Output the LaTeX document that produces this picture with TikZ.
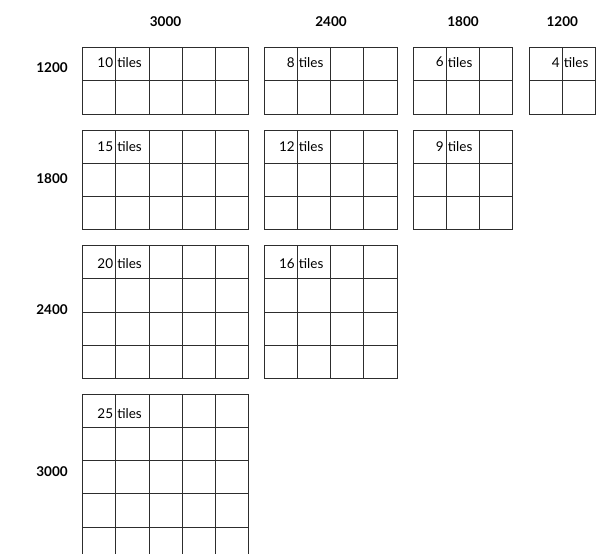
\documentclass[tikz,border=0pt]{standalone}
\usepackage{fontspec}
\setmainfont{Lato}
\usetikzlibrary{positioning}
\definecolor{GridLine}{RGB}{45,45,45}

\tikzset{
  sizelabel/.style={font=\bfseries\fontsize{13.5}{16}\selectfont},
  countlabel/.style={font=\fontsize{13.5}{16}\selectfont, inner sep=0pt},
  tilegrid/.style={GridLine, line width=0.9pt},
}

\begin{document}
\begin{tikzpicture}[x=1pt,y=-1pt]
    % Page area, the last grid runs off the bottom
    \clip (0,0) rectangle (611,554);
    % Column headers (width)
    \node[sizelabel] (col3000) at (165.5,22) {3000};
    \node[sizelabel] (col2400) at (331,22) {2400};
    \node[sizelabel] (col1800) at (463,22) {1800};
    \node[sizelabel] (col1200) at (562.3,22) {1200};
    % Row labels (height)
    \node[sizelabel] (row1200) at (52,68) {1200};
    \node[sizelabel] (row1800) at (52,179) {1800};
    \node[sizelabel] (row2400) at (52,310) {2400};
    \node[sizelabel] (row3000) at (52,472) {3000};
    % Tile grids
    \foreach \gx/\nc [count=\j from 0] in {82.7/5,264.3/4,413.3/3,529.3/2}{
      \foreach \gy/\nr/\ty [count=\i from 0] in {47.7/2/14.5,130/3/16.7,245.7/4/17.6,394.3/5/19}{
        \pgfmathtruncatemacro{\tiles}{\nc*\nr}
        \ifnum\numexpr\i+\j\relax<4
          \begin{scope}[shift={(\gx,\gy)}, x=33.2pt, y=-33.2pt]
            \draw[tilegrid] (0,0) rectangle (\nc,\nr);
            \foreach \k in {1,...,\nc} \draw[tilegrid] (\k,0) -- (\k,\nr);
            \foreach \k in {1,...,\nr} \draw[tilegrid] (0,\k) -- (\nc,\k);
          \end{scope}
          \node[countlabel, anchor=east] (num\i\j) at (\gx+30.6,\gy+\ty) {\tiles};
          \node[countlabel, anchor=west] (word\i\j) at (\gx+34.4,\gy+\ty) {tiles};
        \fi
      }
    }
\end{tikzpicture}
\end{document}
